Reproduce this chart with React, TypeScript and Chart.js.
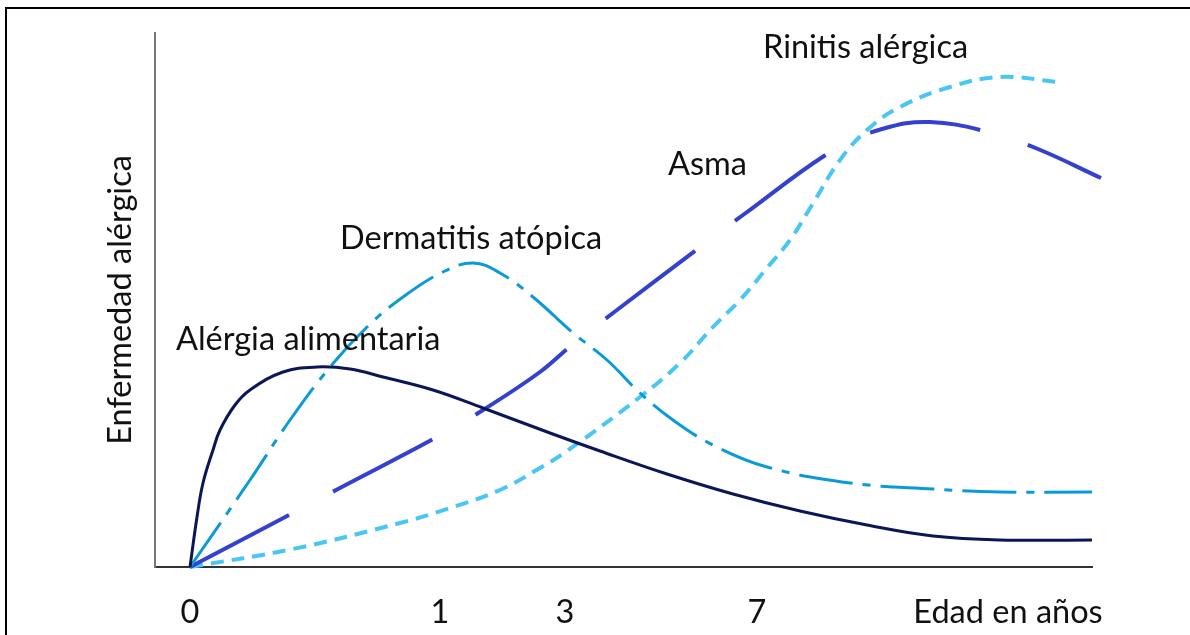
import React, { useEffect, useRef } from "react";
import { Chart, registerables } from "chart.js";

Chart.register(...registerables);

// x: position along the age axis (arbitrary units), y: disease prevalence (arbitrary units)
const tickPositions = [0, 25, 37.5, 56.7, 81.8];
const tickLabels = ["0", "1", "3", "7", "Edad en años"];

const alergiaX = [0, 0.7, 1.3, 2.3, 3.0, 4.5, 6.0, 9.3, 12.7, 16.0, 19.3, 24.3, 29.3, 36, 41, 47.7, 54.3, 61, 67.7, 74.3, 81, 90.2];
const alergiaY = [0, 5.0, 8.4, 11.7, 13.7, 16.2, 17.7, 19.5, 20.0, 19.8, 19.0, 17.7, 15.9, 13.4, 11.6, 9.3, 7.3, 5.6, 4.2, 3.1, 2.7, 2.7];

const dermatitisX = [0, 6, 10, 14, 17.7, 21.3, 25.3, 28.3, 31, 34.3, 38.2, 41.7, 45, 48.3, 52.3, 57.7, 66, 74.3, 81, 90.2];
const dermatitisY = [0, 8.7, 14.7, 20, 24, 27, 29.5, 30.4, 29.4, 27, 23.5, 20.7, 17.4, 14.7, 12.2, 10, 8.4, 7.8, 7.5, 7.5];

const asmaX = [0, 10.3, 14.8, 24.7, 29.3, 35, 38.3, 42.3, 51.3, 55.3, 64.5, 69.2, 74, 80.2, 84.8, 91.1];
const asmaY = [0, 5.4, 7.8, 13, 15.7, 19.5, 22.3, 25.4, 32.2, 35.2, 41.8, 43.8, 44.5, 43.4, 41.8, 38.9];

const rinitisX = [0, 10.3, 21, 26, 31, 35, 37.7, 45, 49, 52.3, 55, 57.7, 60, 62.2, 65, 67.7, 71, 76, 81, 86.8];
const rinitisY = [0, 1.8, 4.4, 5.9, 7.7, 9.9, 11.6, 17, 20.4, 24, 26.7, 29.9, 32.7, 36.2, 40.7, 43.7, 46, 48, 49, 48.5];

const seriesNames = ["Alérgia alimentaria", "Dermatitis atópica", "Asma", "Rinitis alérgica"];
// label anchor (left, baseline) in data units
const labelX = [-1.4, 15, 47.8, 57.3];
const labelY = [21.7, 31.8, 39.2, 50.9];

const FONT = "Lato, 'Open Sans', sans-serif";
const FONT_SIZE = 32.5;

const toPoints = (xs: number[], ys: number[]) => xs.map((x, i) => ({ x, y: ys[i] }));

const labelPlugin = {
  id: "curveLabels",
  afterDatasetsDraw(chart: any) {
    const { ctx, scales } = chart;
    ctx.save();
    ctx.font = `${FONT_SIZE}px ${FONT}`;
    ctx.fillStyle = "#111";
    ctx.textAlign = "left";
    ctx.textBaseline = "alphabetic";
    seriesNames.forEach((name, i) => {
      ctx.fillText(name, scales.x.getPixelForValue(labelX[i]), scales.y.getPixelForValue(labelY[i]));
    });
    ctx.restore();
  },
};

export default function App() {
  const ref = useRef<HTMLCanvasElement>(null);

  useEffect(() => {
    if (!ref.current) return;
    const common = {
      fill: false,
      pointRadius: 0,
      tension: 0.4,
      clip: false as any,
      borderCapStyle: "butt" as const,
    };
    const chart = new Chart(ref.current, {
      type: "line",
      data: {
        datasets: [
          { ...common, label: seriesNames[0], data: toPoints(alergiaX, alergiaY), borderColor: "#0b1656", borderWidth: 3 },
          { ...common, label: seriesNames[1], data: toPoints(dermatitisX, dermatitisY), borderColor: "#0a9ad8", borderWidth: 3, borderDash: [54, 10, 8, 10] },
          { ...common, label: seriesNames[2], data: toPoints(asmaX, asmaY), borderColor: "#3440cf", borderWidth: 4, borderDash: [112, 50] },
          { ...common, label: seriesNames[3], data: toPoints(rinitisX, rinitisY), borderColor: "#4ac6f4", borderWidth: 4, borderDash: [13, 8] },
        ],
      },
      options: {
        responsive: false,
        animation: false,
        layout: { padding: { top: 33, right: 98, left: 0, bottom: 0 } },
        plugins: { legend: { display: false }, tooltip: { enabled: false } },
        scales: {
          x: {
            type: "linear",
            min: -3.5,
            max: 90.2,
            grid: { display: false, drawTicks: false },
            border: { display: true, color: "#333", width: 2 },
            afterBuildTicks: (scale: any) => {
              scale.ticks = tickPositions.map((v) => ({ value: v }));
            },
            afterFit: (scale: any) => {
              scale.height = 68;
            },
            ticks: {
              autoSkip: false,
              maxRotation: 0,
              padding: 26,
              color: "#111",
              font: { family: FONT, size: FONT_SIZE },
              callback: (_v: any, i: number) => tickLabels[i],
            },
          },
          y: {
            type: "linear",
            min: 0,
            max: 53.4,
            grid: { display: false, drawTicks: false },
            border: { display: true, color: "#777", width: 2 },
            ticks: { display: false },
            afterFit: (scale: any) => {
              scale.width = 155;
            },
            title: {
              display: true,
              text: "Enfermedad alérgica",
              color: "#111",
              font: { family: FONT, size: FONT_SIZE },
              padding: { top: 101, bottom: 0 },
            },
          },
        },
      },
      plugins: [labelPlugin],
    });
    return () => chart.destroy();
  }, []);

  return (
    <div style={{ position: "fixed", left: 0, top: 0, width: 1190, height: 635, background: "#fff", overflow: "hidden" }}>
      <div
        style={{
          position: "absolute",
          left: 5,
          top: 7,
          width: 1300,
          height: 800,
          borderLeft: "2px solid #000",
          borderTop: "2px solid #000",
          pointerEvents: "none",
        }}
      />
      <canvas ref={ref} width={1190} height={635} style={{ position: "absolute", left: 0, top: 0 }} />
    </div>
  );
}
